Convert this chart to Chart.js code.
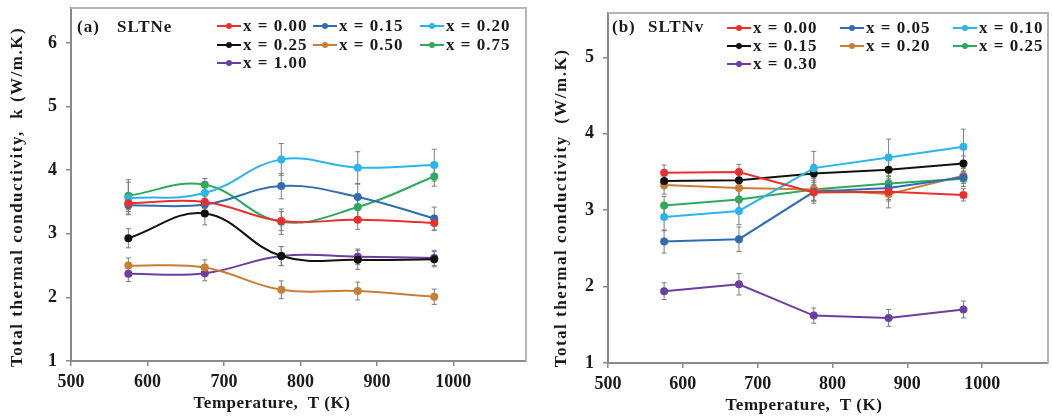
<!DOCTYPE html>
<html>
<head>
<meta charset="utf-8">
<script src="https://cdn.jsdelivr.net/npm/chart.js@4.4.1/dist/chart.umd.min.js"></script>
<style>
  body { margin: 0; background: #fff; }
  #wrap { position: relative; width: 1052px; height: 418px; }
  canvas { position: absolute; top: 0; }
</style>
</head>
<body>
<div id="wrap">
  <canvas id="chartA" width="530" height="418" style="left:0"></canvas>
  <canvas id="chartB" width="522" height="418" style="left:530px"></canvas>
</div>
<script>
// temperatures (K)
const temps = [575, 675, 775, 875, 975];
const xTicks = [500, 600, 700, 800, 900, 1000];
const yTicksA = [1, 2, 3, 4, 5, 6];
const yTicksB = [1, 2, 3, 4, 5];

// (a) SLTNe
const labelsA = ['x = 0.00', 'x = 0.15', 'x = 0.20', 'x = 0.25', 'x = 0.50', 'x = 0.75', 'x = 1.00'];
const kA000 = [3.48, 3.50, 3.20, 3.22, 3.17];
const kA015 = [3.45, 3.46, 3.75, 3.58, 3.24];
const kA020 = [3.56, 3.64, 4.17, 4.04, 4.08];
const kA025 = [2.93, 3.32, 2.65, 2.59, 2.60];
const kA050 = [2.50, 2.47, 2.12, 2.10, 2.01];
const kA075 = [3.60, 3.77, 3.19, 3.42, 3.90];
const kA100 = [2.37, 2.38, 2.65, 2.64, 2.62];
const errA000 = [0.10, 0.10, 0.15, 0.15, 0.12];
const errA015 = [0.15, 0.10, 0.20, 0.20, 0.18];
const errA020 = [0.25, 0.18, 0.25, 0.25, 0.25];
const errA025 = [0.15, 0.18, 0.15, 0.15, 0.12];
const errA050 = [0.12, 0.12, 0.14, 0.14, 0.12];
const errA075 = [0.25, 0.10, 0.20, 0.20, 0.15];
const errA100 = [0.12, 0.12, 0.15, 0.12, 0.12];

// (b) SLTNv
const labelsB = ['x = 0.00', 'x = 0.05', 'x = 0.10', 'x = 0.15', 'x = 0.20', 'x = 0.25', 'x = 0.30'];
const kB000 = [3.49, 3.50, 3.23, 3.24, 3.20];
const kB005 = [2.59, 2.62, 3.24, 3.29, 3.43];
const kB010 = [2.91, 2.99, 3.55, 3.69, 3.83];
const kB015 = [3.38, 3.39, 3.48, 3.53, 3.61];
const kB020 = [3.33, 3.29, 3.27, 3.21, 3.45];
const kB025 = [3.06, 3.14, 3.27, 3.35, 3.41];
const kB030 = [1.94, 2.03, 1.62, 1.59, 1.70];
const errB000 = [0.10, 0.10, 0.10, 0.12, 0.08];
const errB005 = [0.15, 0.16, 0.15, 0.15, 0.12];
const errB010 = [0.18, 0.18, 0.22, 0.24, 0.23];
const errB015 = [0.10, 0.10, 0.12, 0.12, 0.10];
const errB020 = [0.12, 0.12, 0.15, 0.18, 0.10];
const errB025 = [0.12, 0.12, 0.15, 0.15, 0.10];
const errB030 = [0.11, 0.14, 0.10, 0.11, 0.11];

const colors = {
    red: '#e8312f',
    blue: '#2f6db0',
    cyan: '#2bb5ea',
    black: '#111111',
    orange: '#c97d35',
    green: '#2fa95f',
    purple: '#6b3fa0'
};
const serif = '"Liberation Serif", "DejaVu Serif", serif';

function makeSets(labels, series, errs, cols, tension) {
    return series.map((vals, i) => ({
        label: labels[i],
        data: temps.map((t, j) => ({ x: t, y: vals[j] })),
        errors: errs[i],
        borderColor: cols[i],
        backgroundColor: cols[i],
        pointBackgroundColor: cols[i],
        pointBorderColor: cols[i],
        pointRadius: 4,
        pointBorderWidth: 0,
        borderWidth: 2,
        tension: tension
    }));
}

// error bars, box, titles and the in-plot legend
const panelPlugin = {
    id: 'panel',
    beforeDatasetsDraw(chart) {
        const ctx = chart.ctx;
        const xs = chart.scales.x, ys = chart.scales.y;
        ctx.save();
        ctx.strokeStyle = '#7d7d7d';
        ctx.lineWidth = 1;
        chart.data.datasets.forEach(ds => {
            ds.data.forEach((p, i) => {
                const e = ds.errors[i];
                const px = xs.getPixelForValue(p.x);
                const top = ys.getPixelForValue(p.y + e);
                const bot = ys.getPixelForValue(p.y - e);
                ctx.beginPath();
                ctx.moveTo(px, top); ctx.lineTo(px, bot);
                ctx.moveTo(px - 2.5, top); ctx.lineTo(px + 2.5, top);
                ctx.moveTo(px - 2.5, bot); ctx.lineTo(px + 2.5, bot);
                ctx.stroke();
            });
        });
        ctx.restore();
    },
    afterDraw(chart, args, opts) {
        const ctx = chart.ctx;
        const a = chart.chartArea;
        ctx.save();

        // light frame on top and right
        ctx.strokeStyle = '#b4b4b4';
        ctx.lineWidth = 2;
        ctx.beginPath();
        ctx.moveTo(a.left, a.top);
        ctx.lineTo(a.right, a.top);
        ctx.lineTo(a.right, a.bottom);
        ctx.stroke();

        ctx.fillStyle = '#1a1a1a';
        ctx.font = 'bold 17px ' + serif;

        // axis titles
        ctx.textAlign = 'center';
        ctx.textBaseline = 'middle';
        ctx.letterSpacing = '0.5px';
        ctx.fillText(opts.xTitle, opts.xTitlePos[0], opts.xTitlePos[1]);
        ctx.save();
        ctx.letterSpacing = '1.5px';
        ctx.translate(opts.yTitlePos[0], opts.yTitlePos[1]);
        ctx.rotate(-Math.PI / 2);
        ctx.fillText(opts.yTitle, 0, 0);
        ctx.restore();

        // panel tag
        ctx.textAlign = 'left';
        ctx.letterSpacing = '1px';
        ctx.fillText(opts.tag[0], opts.tagPos[0], opts.tagPos[2]);
        ctx.fillText(opts.tag[1], opts.tagPos[1], opts.tagPos[2]);

        // legend, three columns
        chart.data.datasets.forEach((ds, i) => {
            const cx = opts.legendCols[i % 3];
            const cy = opts.legendRows[Math.floor(i / 3)];
            ctx.strokeStyle = ds.borderColor;
            ctx.fillStyle = ds.borderColor;
            ctx.lineWidth = 2;
            ctx.beginPath();
            ctx.moveTo(cx, cy); ctx.lineTo(cx + 24, cy);
            ctx.stroke();
            ctx.beginPath();
            ctx.arc(cx + 12, cy, 3, 0, Math.PI * 2);
            ctx.fill();
            ctx.fillStyle = '#1a1a1a';
            ctx.fillText(ds.label, cx + 26, cy + 1);
        });
        ctx.restore();
    }
};

function axisOpts(min, max, ticks, size, pad) {
    return {
        type: 'linear',
        min: min,
        max: max,
        afterFit: s => {
            // fixed axis size, and no extra room for end labels
            if (s.axis === 'x') s.height = size; else s.width = size;
            s.paddingTop = 0; s.paddingBottom = 0;
            s.paddingLeft = 0; s.paddingRight = 0;
        },
        afterBuildTicks: s => {
            s.ticks = ticks.map(v => ({ value: v }));
        },
        border: { display: true, color: '#8a8a8a', width: 2 },
        grid: { display: true, drawOnChartArea: false, drawTicks: true, tickLength: 5, color: '#8a8a8a', lineWidth: 1.5 },
        ticks: {
            color: '#1a1a1a',
            padding: pad,
            callback: v => String(v),
            font: { family: serif, size: 18, weight: 'bold' }
        }
    };
}

new Chart(document.getElementById('chartA'), {
    type: 'line',
    data: {
        datasets: makeSets(labelsA,
            [kA000, kA015, kA020, kA025, kA050, kA075, kA100],
            [errA000, errA015, errA020, errA025, errA050, errA075, errA100],
            [colors.red, colors.blue, colors.cyan, colors.black, colors.orange, colors.green, colors.purple],
            0.4)
    },
    options: {
        responsive: false,
        animation: false,
        devicePixelRatio: 1,
        layout: { padding: { top: 8, right: 2, left: 0, bottom: 0 } },
        scales: {
            x: axisOpts(500, 1095, xTicks, 57, 6),
            y: axisOpts(1, 6.55, yTicksA, 71, 9)
        },
        plugins: {
            legend: { display: false },
            tooltip: { enabled: false },
            panel: {
                xTitle: 'Temperature,  T (K)',
                xTitlePos: [272, 404],
                yTitle: 'Total thermal conductivity,  k (W/m.K)',
                yTitlePos: [18, 197],
                tag: ['(a)', 'SLTNe'],
                tagPos: [77, 117, 28],
                legendCols: [217, 313, 420],
                legendRows: [26, 45, 63]
            }
        }
    },
    plugins: [panelPlugin]
});

new Chart(document.getElementById('chartB'), {
    type: 'line',
    data: {
        datasets: makeSets(labelsB,
            [kB000, kB005, kB010, kB015, kB020, kB025, kB030],
            [errB000, errB005, errB010, errB015, errB020, errB025, errB030],
            [colors.red, colors.blue, colors.cyan, colors.black, colors.orange, colors.green, colors.purple],
            0)
    },
    options: {
        responsive: false,
        animation: false,
        devicePixelRatio: 1,
        layout: { padding: { top: 13, right: 2, left: 0, bottom: 0 } },
        scales: {
            x: axisOpts(500, 1088, xTicks, 55, 6),
            y: axisOpts(1, 5.58, yTicksB, 78, 9)
        },
        plugins: {
            legend: { display: false },
            tooltip: { enabled: false },
            panel: {
                xTitle: 'Temperature,  T (K)',
                xTitlePos: [274, 406],
                yTitle: 'Total thermal conductivity  (W/m.K)',
                yTitlePos: [32, 208],
                tag: ['(b)', 'SLTNv'],
                tagPos: [82, 118, 28],
                legendCols: [197, 310, 423],
                legendRows: [28, 46, 64]
            }
        }
    },
    plugins: [panelPlugin]
});
</script>
</body>
</html>
